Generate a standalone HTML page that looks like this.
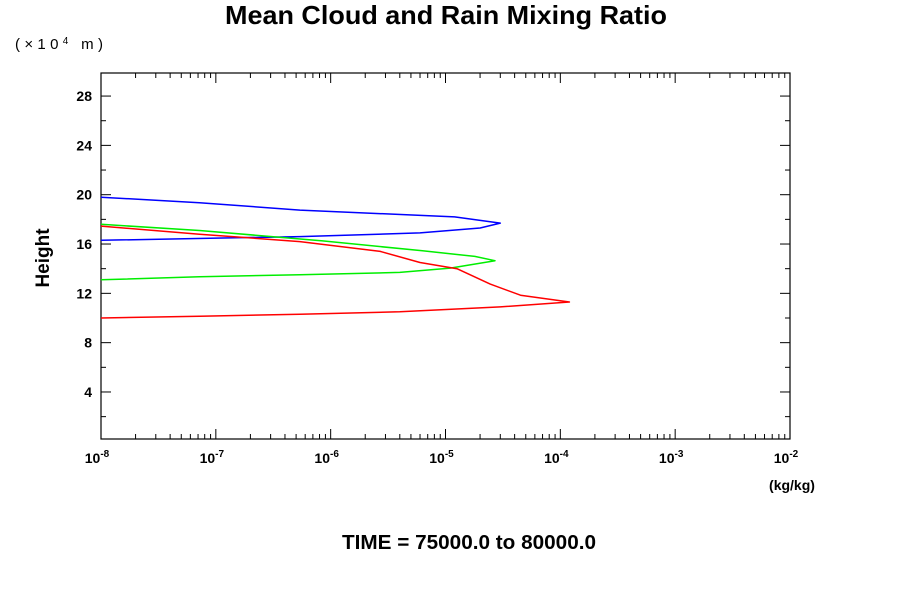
<!DOCTYPE html>
<html><head><meta charset="utf-8"><style>
html,body{margin:0;padding:0;background:#fff;}
svg{display:block;font-family:"Liberation Sans",sans-serif;}
</style></head><body>
<svg id="chart" width="900" height="600" viewBox="0 0 900 600" xmlns="http://www.w3.org/2000/svg">
<text x="446" y="24" text-anchor="middle" font-size="26" font-weight="bold" textLength="442" lengthAdjust="spacingAndGlyphs">Mean Cloud and Rain Mixing Ratio</text>
<text x="15" y="49" font-size="15" textLength="88" lengthAdjust="spacing">(×10<tspan baseline-shift="super" font-size="10">4</tspan> m)</text>
<text x="0" y="0" transform="translate(49,258) rotate(-90)" text-anchor="middle" font-size="19" font-weight="bold">Height</text>
<text x="792" y="490" text-anchor="middle" font-size="14" font-weight="bold">(kg/kg)</text>
<text x="469" y="549" text-anchor="middle" font-size="20.5" font-weight="bold" textLength="254" lengthAdjust="spacingAndGlyphs">TIME = 75000.0 to 80000.0</text>
<rect x="101" y="73" width="689" height="366" fill="none" stroke="#000" stroke-width="1.2"/>
<g id="ticks"></g>
<g id="series"></g>
</svg>
<script>
const yTicks = [4, 8, 12, 16, 20, 24, 28];
const xDecades = [-8, -7, -6, -5, -4, -3, -2];
const blueHeight = [19.8, 19.35, 18.75, 18.2, 17.7, 17.3, 16.9, 16.6, 16.3];
const blueQ = [1e-8, 7.2e-8, 5.4e-7, 1.2e-5, 3.0e-5, 2.0e-5, 6.0e-6, 5.4e-7, 1e-8];
const greenHeight = [17.6, 17.1, 16.25, 15.45, 15.0, 14.65, 14.05, 13.7, 13.5, 13.35, 13.1];
const greenQ = [1e-8, 7.2e-8, 8.5e-7, 6.3e-6, 1.8e-5, 2.7e-5, 1.1e-5, 4.0e-6, 5.4e-7, 7.2e-8, 1e-8];
const redHeight = [17.45, 16.8, 16.2, 15.4, 14.5, 14.0, 12.75, 11.85, 11.3, 10.9, 10.5, 10.3, 10.15, 10.0];
const redQ = [1e-8, 7.2e-8, 5.4e-7, 2.7e-6, 6.0e-6, 1.26e-5, 2.45e-5, 4.5e-5, 1.2e-4, 3.0e-5, 4.0e-6, 5.4e-7, 7.2e-8, 1e-8];

const NS = "http://www.w3.org/2000/svg";
const L = 101, R = 790, T = 73, B = 439;
function xScale(q){ return L + (Math.log10(q) + 8) * (R - L) / 6; }
function yScale(h){ return 441.3 - 12.33 * h; }
function mk(tag, attrs, parent){ const e = document.createElementNS(NS, tag); for (const k in attrs) e.setAttribute(k, attrs[k]); parent.appendChild(e); return e; }
const tg = document.getElementById('ticks');
for (let v = 2; v <= 28; v += 2) {
  const y = yScale(v), len = (v % 4 === 0) ? 10 : 5;
  const t1 = mk('line', {x1: L, x2: L + len, y1: y, y2: y, stroke: '#000'}, tg);
  
  
  const t2 = mk('line', {x1: R, x2: R - len, y1: y, y2: y, stroke: '#000'}, tg);
  
  
}
yTicks.forEach(v => {
  const t = mk('text', {x: 92, y: yScale(v) + 5, 'text-anchor': 'end', 'font-size': 14, 'font-weight': 'bold'}, tg);
  t.textContent = v;
  
  
});
xDecades.forEach((d, i) => {
  const x = xScale(Math.pow(10, d));
  const a = mk('line', {x1: x, x2: x, y1: B, y2: B - 10, stroke: '#000'}, tg);
  
  
  const b = mk('line', {x1: x, x2: x, y1: T, y2: T + 10, stroke: '#000'}, tg);
  
  
  const t = mk('text', {x: x - 4, y: 463, 'text-anchor': 'middle', 'font-size': 14, 'font-weight': 'bold'}, tg);
  t.innerHTML = '10<tspan dy="-6" font-size="10">' + d + '</tspan>';
  
  
  if (i < xDecades.length - 1) {
    for (let m = 2; m <= 9; m++) {
      const xm = xScale(m * Math.pow(10, d));
      const c = mk('line', {x1: xm, x2: xm, y1: B, y2: B - 5, stroke: '#000'}, tg);
      
      
      const e = mk('line', {x1: xm, x2: xm, y1: T, y2: T + 5, stroke: '#000'}, tg);
      
      
    }
  }
});
const sg = document.getElementById('series');
[[blueQ, blueHeight, '#0000ff', 'blue-series-line'], [greenQ, greenHeight, '#00ee00', 'green-series-line'], [redQ, redHeight, '#ff0000', 'red-series-line']].forEach(s => {
  const pts = s[0].map((q, i) => xScale(q).toFixed(1) + ',' + yScale(s[1][i]).toFixed(1)).join(' ');
  const p = mk('polyline', {points: pts, fill: 'none', stroke: s[2], 'stroke-width': 1.5, 'stroke-linejoin': 'round'}, sg);
  
  
});
</script>
</body></html>
